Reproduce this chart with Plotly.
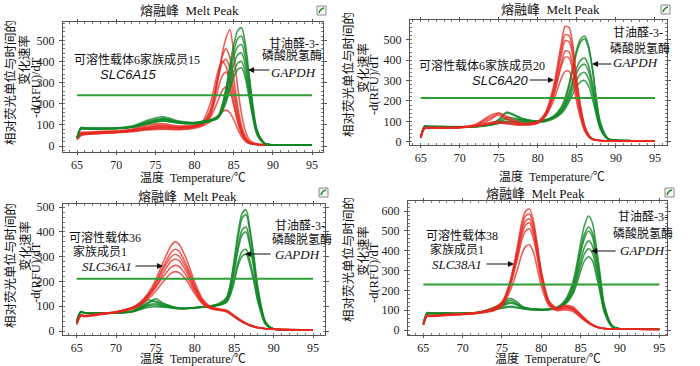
import plotly.graph_objects as go

# ---------------- data ----------------
T1 = [65, 65.5, 66, 68, 70, 72, 74, 76, 78, 80, 81, 82, 83, 83.5, 84, 84.5, 85, 85.5, 86, 86.5, 87, 88, 89, 90, 92, 95]
P1_red = [
    [40, 60, 62, 65, 68, 75, 85, 90, 88, 95, 105, 150, 320, 430, 510, 550, 440, 280, 150, 70, 30, 10, 7, 6, 5, 5],
    [35, 55, 58, 62, 66, 72, 82, 88, 85, 92, 105, 160, 330, 420, 460, 420, 320, 190, 95, 45, 20, 8, 6, 5, 5, 5],
    [38, 65, 66, 70, 72, 80, 100, 105, 95, 98, 110, 170, 320, 390, 410, 370, 270, 160, 80, 38, 18, 8, 6, 5, 5, 5],
    [30, 50, 55, 60, 64, 70, 80, 84, 80, 88, 100, 145, 270, 330, 350, 320, 240, 145, 75, 35, 16, 7, 6, 5, 5, 4],
    [35, 58, 60, 63, 66, 73, 88, 95, 88, 92, 102, 135, 215, 260, 280, 260, 195, 120, 62, 30, 14, 7, 6, 5, 5, 4],
    [32, 52, 55, 60, 63, 68, 76, 80, 78, 85, 95, 115, 145, 162, 170, 158, 125, 82, 45, 22, 12, 7, 5, 5, 4, 4],
    [36, 60, 62, 66, 70, 78, 92, 98, 92, 96, 115, 200, 355, 400, 380, 300, 200, 115, 55, 25, 12, 7, 6, 5, 5, 4],
]
P1_green = [
    [40, 85, 84, 83, 84, 90, 110, 125, 112, 110, 115, 122, 140, 190, 270, 380, 480, 545, 560, 480, 330, 75, 12, 6, 6, 5],
    [42, 88, 86, 85, 86, 95, 122, 138, 118, 112, 118, 125, 142, 188, 260, 360, 450, 508, 520, 450, 310, 70, 12, 6, 6, 5],
    [38, 80, 80, 80, 82, 88, 105, 118, 108, 105, 110, 118, 135, 175, 240, 335, 420, 470, 480, 415, 285, 65, 11, 6, 6, 5],
    [40, 85, 84, 84, 85, 92, 115, 130, 115, 110, 116, 122, 138, 172, 230, 310, 385, 432, 440, 380, 262, 60, 11, 6, 6, 5],
    [38, 82, 82, 82, 83, 90, 108, 120, 110, 106, 112, 118, 132, 165, 215, 285, 350, 392, 400, 345, 240, 56, 10, 6, 6, 5],
    [40, 84, 83, 83, 84, 90, 112, 128, 112, 108, 114, 120, 134, 160, 205, 265, 325, 362, 370, 320, 222, 52, 10, 6, 6, 5],
]

T2 = [65, 65.5, 66, 68, 70, 72, 74, 75, 76, 78, 80, 81, 82, 83, 83.5, 84, 84.5, 85, 85.5, 86, 86.5, 87, 88, 89, 90, 92, 95]
P2_red = [
    [20, 65, 68, 68, 70, 80, 110, 140, 125, 90, 100, 145, 270, 480, 565, 560, 470, 300, 170, 80, 35, 15, 6, 5, 5, 4, 3],
    [25, 70, 70, 70, 72, 82, 120, 130, 110, 88, 98, 140, 255, 450, 525, 520, 440, 280, 160, 75, 33, 14, 6, 5, 5, 4, 3],
    [22, 66, 68, 68, 70, 78, 95, 100, 95, 85, 95, 135, 240, 425, 495, 490, 415, 265, 150, 70, 31, 13, 6, 5, 5, 4, 3],
    [20, 64, 66, 66, 68, 76, 90, 95, 90, 82, 92, 130, 225, 385, 445, 440, 370, 240, 135, 64, 29, 12, 6, 5, 5, 4, 3],
    [24, 68, 70, 70, 72, 85, 130, 140, 115, 88, 98, 135, 225, 370, 415, 410, 345, 225, 128, 60, 27, 12, 6, 5, 5, 4, 3],
    [20, 64, 66, 67, 69, 76, 88, 92, 88, 82, 90, 125, 200, 310, 345, 345, 290, 190, 110, 52, 24, 11, 5, 5, 5, 4, 3],
]
P2_green = [
    [20, 78, 76, 75, 74, 76, 88, 110, 145, 115, 102, 108, 125, 170, 215, 285, 370, 455, 505, 518, 470, 360, 95, 15, 7, 5, 4],
    [22, 75, 74, 73, 73, 75, 85, 100, 120, 108, 100, 106, 122, 165, 205, 270, 355, 440, 490, 505, 458, 350, 92, 15, 7, 5, 4],
    [20, 76, 75, 74, 73, 75, 86, 105, 140, 112, 100, 105, 120, 155, 190, 240, 305, 365, 400, 410, 372, 285, 78, 13, 7, 5, 4],
    [21, 74, 73, 73, 72, 74, 84, 95, 110, 105, 98, 104, 118, 150, 180, 225, 285, 340, 372, 380, 345, 265, 74, 13, 7, 5, 4],
    [20, 75, 74, 73, 72, 74, 83, 92, 100, 100, 97, 102, 116, 145, 172, 210, 260, 305, 333, 340, 308, 238, 68, 12, 7, 5, 4],
    [20, 74, 73, 72, 72, 73, 82, 90, 95, 96, 96, 100, 112, 138, 162, 195, 235, 272, 295, 300, 272, 210, 62, 12, 7, 5, 4],
]

T3 = [65, 65.5, 66, 68, 70, 72, 73, 74, 75, 76, 77, 77.5, 78, 79, 80, 81, 82, 83, 84, 84.5, 85, 85.5, 86, 86.5, 87, 87.5, 88, 89, 90, 92, 95]
P3_red = [
    [30, 65, 60, 70, 78, 95, 115, 150, 205, 280, 345, 360, 350, 285, 195, 128, 98, 90, 84, 75, 63, 52, 42, 33, 25, 19, 15, 10, 8, 6, 4],
    [28, 62, 60, 68, 76, 92, 110, 142, 192, 260, 318, 330, 322, 262, 182, 122, 95, 88, 82, 72, 60, 49, 39, 31, 23, 18, 14, 9, 7, 6, 4],
    [30, 64, 62, 70, 78, 94, 112, 145, 190, 250, 300, 310, 302, 250, 175, 118, 95, 88, 80, 70, 59, 48, 38, 30, 22, 17, 13, 9, 7, 5, 4],
    [26, 60, 58, 66, 74, 88, 105, 135, 178, 235, 282, 290, 284, 236, 168, 115, 93, 86, 80, 70, 58, 47, 37, 29, 22, 17, 13, 9, 7, 5, 4],
    [30, 64, 62, 70, 78, 94, 110, 138, 175, 220, 258, 265, 260, 220, 160, 112, 92, 88, 82, 72, 60, 49, 39, 30, 23, 18, 14, 9, 7, 6, 4],
    [28, 62, 60, 68, 76, 90, 104, 128, 160, 200, 234, 240, 236, 202, 150, 108, 90, 84, 78, 68, 57, 46, 36, 28, 21, 16, 13, 9, 7, 5, 4],
]
P3_green = [
    [40, 78, 74, 74, 74, 80, 95, 115, 120, 110, 100, 95, 92, 92, 95, 98, 102, 110, 135, 190, 290, 400, 475, 490, 410, 300, 175, 35, 8, 5, 4],
    [38, 76, 72, 72, 72, 78, 92, 110, 130, 112, 100, 96, 93, 92, 95, 98, 101, 108, 130, 182, 275, 380, 455, 470, 395, 290, 168, 34, 8, 5, 4],
    [40, 78, 74, 74, 74, 80, 100, 125, 118, 105, 98, 94, 92, 92, 94, 97, 100, 106, 125, 168, 250, 345, 408, 420, 355, 262, 152, 32, 8, 5, 4],
    [38, 76, 73, 73, 73, 78, 90, 105, 110, 102, 96, 93, 91, 91, 94, 97, 100, 106, 122, 162, 240, 330, 388, 400, 340, 250, 145, 30, 8, 5, 4],
    [40, 78, 74, 74, 74, 79, 88, 100, 105, 100, 95, 92, 91, 91, 94, 96, 99, 104, 118, 150, 210, 280, 322, 330, 282, 210, 125, 27, 8, 5, 4],
    [38, 76, 73, 73, 73, 77, 86, 95, 98, 96, 93, 91, 90, 90, 93, 96, 99, 104, 116, 145, 200, 265, 302, 310, 265, 198, 118, 26, 8, 5, 4],
]

T4 = [65, 65.5, 66, 68, 70, 72, 74, 75, 76, 77, 77.5, 78, 78.5, 79, 79.5, 80, 81, 82, 83, 84, 84.5, 85, 85.5, 86, 86.5, 87, 87.5, 88, 89, 90, 92, 95]
P4_red = [
    [30, 75, 72, 78, 82, 88, 105, 135, 240, 430, 540, 600, 610, 550, 430, 300, 145, 112, 125, 118, 100, 80, 60, 42, 28, 18, 12, 8, 6, 5, 4, 3],
    [28, 72, 70, 76, 80, 86, 100, 128, 230, 410, 515, 575, 585, 528, 412, 288, 140, 108, 120, 112, 95, 76, 57, 40, 27, 17, 11, 8, 6, 5, 4, 3],
    [30, 74, 72, 78, 82, 90, 110, 140, 235, 400, 495, 550, 560, 505, 395, 278, 138, 108, 118, 110, 93, 74, 55, 39, 26, 17, 11, 8, 6, 5, 4, 3],
    [26, 70, 68, 74, 78, 84, 98, 122, 215, 380, 475, 530, 540, 488, 382, 268, 134, 104, 112, 105, 88, 70, 52, 37, 25, 16, 11, 8, 6, 5, 4, 3],
    [30, 74, 72, 78, 82, 90, 112, 142, 225, 365, 450, 500, 510, 462, 362, 255, 130, 104, 110, 102, 86, 68, 51, 36, 24, 16, 10, 8, 6, 5, 4, 3],
    [28, 72, 70, 76, 80, 86, 102, 125, 195, 310, 380, 422, 430, 392, 310, 222, 120, 98, 102, 95, 80, 63, 48, 34, 23, 15, 10, 7, 6, 5, 4, 3],
]
P4_green = [
    [30, 88, 86, 85, 85, 90, 112, 125, 150, 130, 118, 112, 108, 106, 105, 104, 106, 115, 150, 240, 330, 440, 530, 575, 540, 420, 275, 130, 22, 6, 5, 4],
    [32, 85, 84, 84, 84, 88, 108, 118, 135, 125, 115, 110, 107, 105, 104, 103, 105, 112, 142, 225, 305, 405, 485, 520, 490, 380, 250, 120, 20, 6, 5, 4],
    [30, 86, 85, 84, 84, 88, 115, 135, 160, 140, 122, 112, 108, 106, 105, 104, 106, 113, 140, 215, 292, 390, 465, 500, 470, 365, 240, 115, 20, 6, 5, 4],
    [30, 84, 83, 83, 83, 86, 104, 112, 120, 115, 110, 106, 104, 103, 102, 102, 104, 110, 135, 200, 268, 352, 420, 450, 425, 330, 218, 105, 18, 6, 5, 4],
    [32, 86, 85, 84, 84, 88, 110, 125, 140, 128, 116, 110, 106, 104, 103, 102, 104, 110, 132, 190, 250, 325, 385, 410, 388, 302, 200, 98, 17, 6, 5, 4],
    [30, 84, 83, 83, 83, 86, 102, 110, 115, 112, 108, 105, 103, 102, 101, 101, 103, 108, 128, 180, 232, 298, 350, 370, 350, 272, 182, 90, 16, 6, 5, 4],
]

THRESHOLD = [240, 215, 211, 230]
THRESH_X = [65, 95]
X_TICKS = [65, 70, 75, 80, 85, 90, 95]

TITLE = "熔融峰  Melt Peak"
XTITLE = "温度  Temperature/℃"
YLAB = ["相对荧光单位与时间的", "变化速率", "-d(RFU)/dT"]

# ---------------- figure ----------------
W, H = 700, 366
RED = "rgba(230,40,32,0.75)"
GREEN = "rgba(18,135,38,0.8)"
THR = "#2f9e35"
SERIF = "Liberation Serif, Noto Sans CJK SC, serif"
CJK = "Liberation Serif, Noto Sans CJK SC"

panels = [
    dict(T=T1, red=P1_red, green=P1_green, order="rg",
         xdom=(63, 323), ydom=(22, 152), xr=[63.2, 96.4], yr=[-28, 587]),
    dict(T=T2, red=P2_red, green=P2_green, order="gr",
         xdom=(410, 667), ydom=(20, 145), xr=[63.63, 96.54], yr=[-16, 597]),
    dict(T=T3, red=P3_red, green=P3_green, order="gr",
         xdom=(63, 325), ydom=(204, 335), xr=[63.26, 96.52], yr=[-16, 513]),
    dict(T=T4, red=P4_red, green=P4_green, order="gr",
         xdom=(408, 667), ydom=(201, 335), xr=[63.05, 95.98], yr=[-25, 651]),
]

fig = go.Figure()
layout = dict(width=W, height=H, margin=dict(l=0, r=0, t=0, b=0, autoexpand=False),
              paper_bgcolor="white", plot_bgcolor="white", showlegend=False)

for i, p in enumerate(panels):
    k = "" if i == 0 else str(i + 1)
    xa, ya = "x" + k, "y" + k
    groups = {"r": (p["red"], RED), "g": (p["green"], GREEN)}
    for key in p["order"]:
        curves, col = groups[key]
        for c in curves:
            assert len(c) == len(p["T"])
            fig.add_trace(go.Scatter(x=p["T"], y=c, mode="lines", xaxis=xa, yaxis=ya,
                                     line=dict(color=col, width=1.6, shape="spline", smoothing=0.8),
                                     hoverinfo="skip"))
    fig.add_trace(go.Scatter(x=THRESH_X, y=[THRESHOLD[i]] * 2, mode="lines", xaxis=xa, yaxis=ya,
                             line=dict(color=THR, width=2), hoverinfo="skip"))
    x0, x1 = p["xdom"]
    y0, y1 = p["ydom"]
    common = dict(showline=True, linecolor="#555", linewidth=1, mirror="allticks",
                  ticks="outside", tickcolor="#555", showgrid=False, zeroline=False,
                  tickfont=dict(family=SERIF, size=12, color="#222"))
    layout["xaxis" + k] = dict(domain=[x0 / W, x1 / W], range=p["xr"], anchor=ya,
                               tickmode="array", tickvals=X_TICKS, ticklabelstandoff=0, ticklen=2,
                               minor=dict(ticks="inside", ticklen=2, dtick=1, tick0=65, tickcolor="#777"),
                               **common)
    layout["yaxis" + k] = dict(domain=[1 - y1 / H, 1 - y0 / H], range=p["yr"], anchor=xa,
                               dtick=100, tick0=0, ticklabelstandoff=2, ticklen=3,
                               minor=dict(ticks="inside", ticklen=2, dtick=20, tick0=0, tickcolor="#777"),
                               **common)

fig.update_layout(**layout)

ann = []


def txt(x, y, s, size=12, family=CJK, angle=0, yanchor="middle"):
    ann.append(dict(x=x / W, y=1 - y / H, xref="paper", yref="paper", text=s, showarrow=False,
                    xanchor="center", yanchor=yanchor, textangle=angle, borderpad=0,
                    font=dict(family=family, size=size, color="#111")))


def arrow(hx, hy, tx, ty):
    ann.append(dict(x=hx / W, y=1 - hy / H, xref="paper", yref="paper", text="",
                    showarrow=True, ax=tx - hx, ay=ty - hy, arrowhead=2, arrowsize=1.1,
                    arrowwidth=1.1, arrowcolor="#111"))


# titles / axis titles
for (tx, ty) in [(190, 10), (550, 9), (187, 196), (535, 193)]:
    txt(tx, ty, TITLE, size=13)
for (tx, ty) in [(193, 177), (552, 176), (193, 358), (548, 358)]:
    txt(tx, ty, XTITLE, size=12)

# y labels
for (base_x, cy1, cy2, cy3) in [(0, 83, 60, 88), (338, 75, 68, 85), (0, 266, 246, 273), (338, 260, 251, 273)]:
    txt(base_x + 10, cy1, YLAB[0], size=12.5, angle=-90)
    txt(base_x + 25, cy2, YLAB[1], size=12.5, angle=-90)
    txt(base_x + 36, cy3, YLAB[2], size=12.5, family=SERIF, angle=-90)

SANS_I = "Liberation Sans, Arial"
SERIF_I = "Liberation Serif, serif"
# panel 1
txt(137, 60, "可溶性载体6家族成员15")
txt(128, 74, "<i>SLC6A15</i>", size=13, family=SANS_I)
txt(294, 43, "甘油醛-3-")
txt(292, 56, "磷酸脱氢酶")
txt(293, 72, "<i>GAPDH</i>", size=13, family=SERIF_I)
arrow(248, 70, 271, 70)
# panel 2
txt(482, 66, "可溶性载体6家族成员20")
txt(500, 80, "<i>SLC6A20</i>", size=13, family=SANS_I)
arrow(554, 80, 528, 80)
txt(638, 33, "甘油醛-3-")
txt(640, 48, "磷酸脱氢酶")
txt(635, 63, "<i>GAPDH</i>", size=13, family=SERIF_I)
arrow(592, 64, 613, 64)
# panel 3
txt(105, 238, "可溶性载体36")
txt(100, 251, "家族成员1")
txt(107, 266, "<i>SLC36A1</i>", size=13, family=SERIF_I)
arrow(163, 266, 134, 266)
txt(300, 225, "甘油醛-3-")
txt(302, 240, "磷酸脱氢酶")
txt(297, 254, "<i>GAPDH</i>", size=13, family=SERIF_I)
arrow(245, 254, 272, 254)
# panel 4
txt(462, 235, "可溶性载体38")
txt(457, 249, "家族成员1")
txt(457, 264, "<i>SLC38A1</i>", size=13, family=SERIF_I)
arrow(514, 264, 485, 264)
txt(643, 216, "甘油醛-3-")
txt(643, 233, "磷酸脱氢酶")
txt(642, 250, "<i>GAPDH</i>", size=13, family=SERIF_I)
arrow(591, 251, 617, 251)

fig.update_layout(annotations=ann)

# small icons in the top-right corners
shapes = []
for (ix, iy) in [(317, 6), (661, 5), (319, 188), (665, 188)]:
    shapes.append(dict(type="rect", xref="paper", yref="paper", x0=ix / W, x1=(ix + 9) / W,
                       y0=1 - (iy + 9) / H, y1=1 - iy / H, line=dict(color="#8a8a8a", width=1),
                       fillcolor="#f4f4f4"))
    shapes.append(dict(type="path", xref="paper", yref="paper",
                       path=f"M {(ix + 2) / W} {1 - (iy + 7) / H} Q {(ix + 3) / W} {1 - (iy + 3) / H} {(ix + 7) / W} {1 - (iy + 2) / H}",
                       line=dict(color="#1c8a2c", width=1.5)))
fig.update_layout(shapes=shapes)

fig.write_html("out.html", config={"displayModeBar": False},
               post_script="document.body.style.margin='0';document.body.style.overflow='hidden';")
